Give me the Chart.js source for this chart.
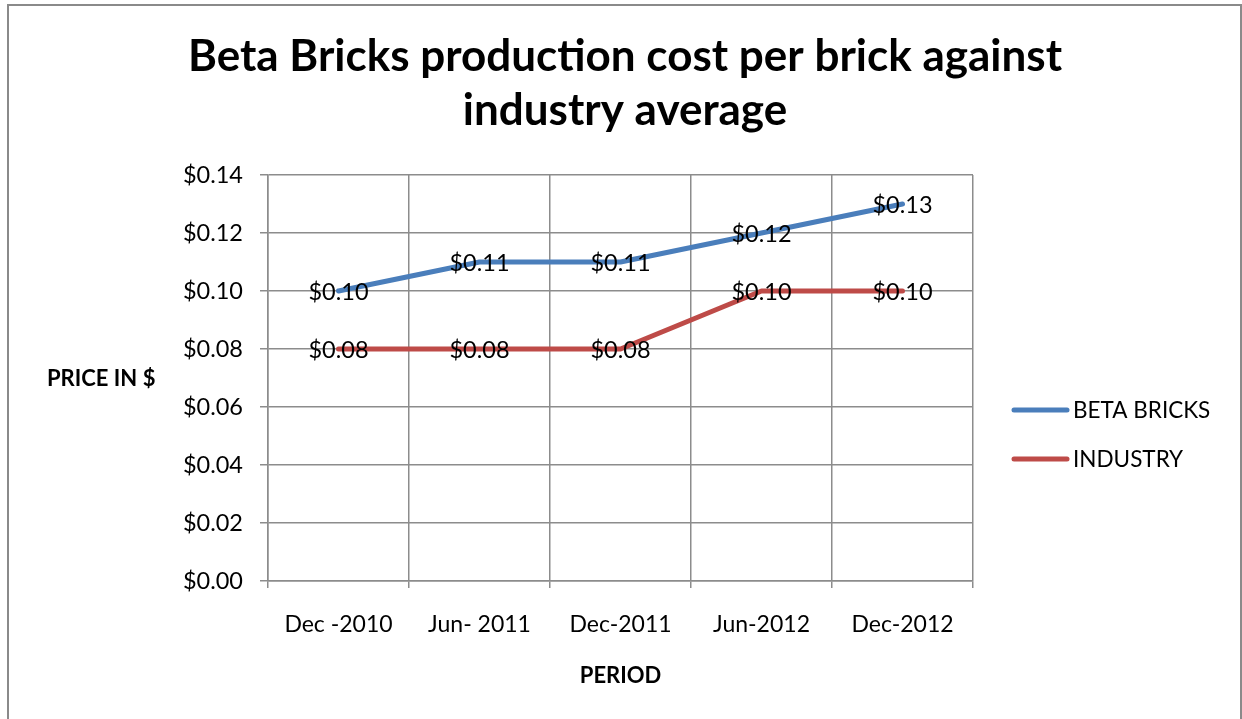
<!DOCTYPE html>
<html>
<head>
<meta charset="utf-8">
<script src="https://cdn.jsdelivr.net/npm/chart.js@4.4.0/dist/chart.umd.min.js"></script>
<style>
  html, body { margin: 0; padding: 0; background: #fff; }
</style>
</head>
<body>
<canvas id="chart" width="1242" height="719"></canvas>
<script>
// cost per brick, half-yearly
const periods = ['Dec -2010', 'Jun- 2011', 'Dec-2011', 'Jun-2012', 'Dec-2012'];
const betaBricks = [0.10, 0.11, 0.11, 0.12, 0.13];
const industry = [0.08, 0.08, 0.08, 0.10, 0.10];
const seriesNames = ['BETA BRICKS', 'INDUSTRY'];
const priceTicks = [0, 0.02, 0.04, 0.06, 0.08, 0.10, 0.12, 0.14];
const titleLines = ['Beta Bricks production cost per brick against', 'industry average'];

const FONT = 'Lato, "Open Sans", sans-serif';
const GRID = '#8c8c8c';
const BLUE = '#4a7ebb';
const RED = '#be4b48';

const money = v => '$' + Number(v).toFixed(2);

// outer frame and the big title (centred on the whole frame, not the plot)
const framePlugin = {
  id: 'frame',
  beforeDraw(chart) {
    const ctx = chart.ctx;
    ctx.save();
    ctx.fillStyle = '#fff';
    ctx.fillRect(0, 0, chart.width, chart.height);
    ctx.strokeStyle = '#8a8a8a';
    ctx.lineWidth = 2;
    ctx.strokeRect(8, 5, 1233, 800);

    ctx.fillStyle = '#000';
    ctx.font = 'bold 44px ' + FONT;
    ctx.textAlign = 'center';
    ctx.textBaseline = 'alphabetic';
    titleLines.forEach((line, i) => ctx.fillText(line, 625, 71 + i * 54));
    ctx.restore();
  }
};

// value written on top of every point
const valueLabels = {
  id: 'valueLabels',
  afterDatasetsDraw(chart) {
    const ctx = chart.ctx;
    ctx.save();
    ctx.font = '23.5px ' + FONT;
    ctx.fillStyle = '#000';
    ctx.textAlign = 'center';
    ctx.textBaseline = 'middle';
    chart.data.datasets.forEach((ds, i) => {
      chart.getDatasetMeta(i).data.forEach((pt, j) => {
        ctx.fillText(money(ds.data[j]), pt.x, pt.y + 1);
      });
    });
    ctx.restore();
  }
};

// horizontal y title and the legend on the right
const sideText = {
  id: 'sideText',
  afterDraw(chart) {
    const ctx = chart.ctx;
    ctx.save();
    ctx.fillStyle = '#000';
    ctx.font = 'bold 22px ' + FONT;
    ctx.textAlign = 'left';
    ctx.textBaseline = 'alphabetic';
    ctx.fillText('PRICE IN $', 47, 386);

    ctx.font = '22.5px ' + FONT;
    ctx.textBaseline = 'middle';
    chart.data.datasets.forEach((ds, i) => {
      const y = 410 + i * 49;
      ctx.strokeStyle = ds.borderColor;
      ctx.lineWidth = 5;
      ctx.lineCap = 'round';
      ctx.beginPath();
      ctx.moveTo(1014, y);
      ctx.lineTo(1067, y);
      ctx.stroke();
      ctx.fillText(ds.label, 1073, y + 1);
    });
    ctx.restore();
  }
};

new Chart(document.getElementById('chart'), {
  type: 'line',
  data: {
    labels: periods,
    datasets: [
      { label: seriesNames[0], data: betaBricks, borderColor: BLUE, backgroundColor: BLUE },
      { label: seriesNames[1], data: industry, borderColor: RED, backgroundColor: RED }
    ]
  },
  plugins: [framePlugin, valueLabels, sideText],
  options: {
    responsive: false,
    animation: false,
    layout: { padding: { left: 0, right: 269, top: 175, bottom: 0 } },
    elements: {
      line: { borderWidth: 5, tension: 0, borderCapStyle: 'round', borderJoinStyle: 'round' },
      point: { radius: 0, hoverRadius: 0 }
    },
    plugins: {
      legend: { display: false },
      tooltip: { enabled: false },
      title: { display: false }
    },
    scales: {
      x: {
        offset: true,
        grid: { offset: true, color: GRID, lineWidth: 1.5, tickLength: 7, tickColor: GRID },
        border: { color: GRID, width: 1.5 },
        ticks: { color: '#000', font: { family: FONT, size: 23 }, padding: 23, maxRotation: 0 },
        title: {
          display: true,
          text: 'PERIOD',
          color: '#000',
          font: { family: FONT, size: 22, weight: 'bold' },
          padding: { top: 0, bottom: 30 }
        },
        afterFit(scale) { scale.height = 138; }
      },
      y: {
        min: 0,
        max: 0.14,
        grid: { color: GRID, lineWidth: 1.5, tickLength: 8, tickColor: GRID },
        border: { color: GRID, width: 1.5 },
        ticks: {
          color: '#000',
          font: { family: FONT, size: 23.5 },
          padding: 17,
          callback: v => money(v)
        },
        afterBuildTicks(scale) { scale.ticks = priceTicks.map(v => ({ value: v })); },
        afterFit(scale) { scale.width = 268; }
      }
    }
  }
});
</script>
</body>
</html>
